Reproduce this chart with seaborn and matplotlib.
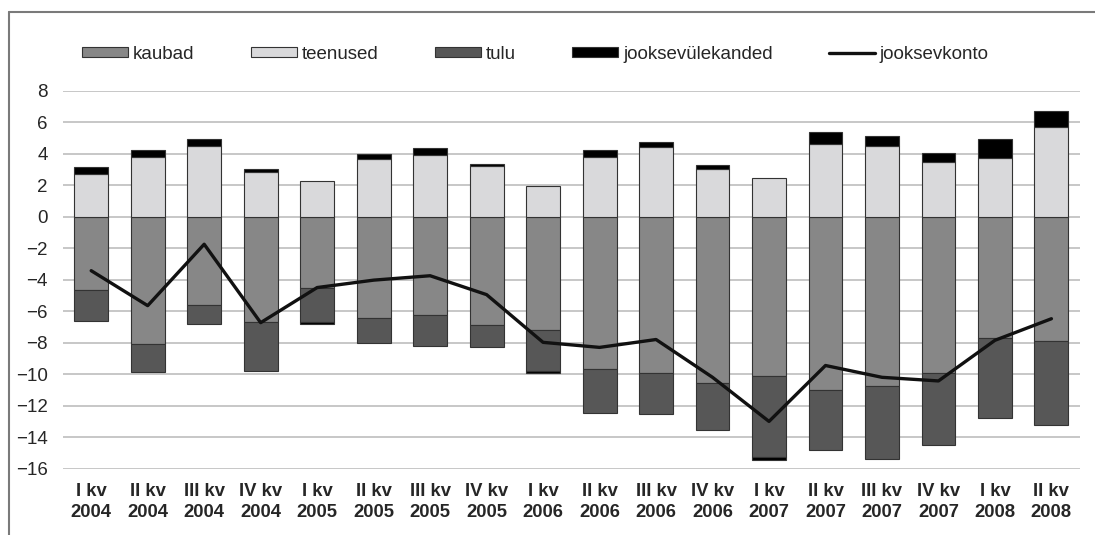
import numpy as np
import matplotlib
matplotlib.use("Agg")
import matplotlib.pyplot as plt
from matplotlib.patches import Rectangle
from matplotlib.lines import Line2D
import pandas as pd
import seaborn as sns

sns.set_style("white")
plt.rcParams['font.family'] = ['Liberation Sans', 'DejaVu Sans']

quarters = ["I kv\n2004", "II kv\n2004", "III kv\n2004", "IV kv\n2004",
            "I kv\n2005", "II kv\n2005", "III kv\n2005", "IV kv\n2005",
            "I kv\n2006", "II kv\n2006", "III kv\n2006", "IV kv\n2006",
            "I kv\n2007", "II kv\n2007", "III kv\n2007", "IV kv\n2007",
            "I kv\n2008", "II kv\n2008"]

kaubad = [-4.63, -8.06, -5.63, -6.69, -4.55, -6.41, -6.22, -6.90, -7.21,
          -9.67, -9.92, -10.54, -10.14, -11.00, -10.75, -9.92, -7.68, -7.89]
teenused = [2.73, 3.81, 4.51, 2.86, 2.29, 3.64, 3.92, 3.24, 1.97,
            3.81, 4.40, 3.03, 2.48, 4.62, 4.51, 3.45, 3.73, 5.71]
tulu = [-1.99, -1.82, -1.18, -3.09, -2.15, -1.59, -1.97, -1.40, -2.57,
        -2.77, -2.63, -2.98, -5.14, -3.81, -4.66, -4.60, -5.12, -5.33]
jooksevulekanded = [0.45, 0.44, 0.44, 0.15, -0.10, 0.32, 0.42, 0.13, -0.16,
                    0.44, 0.34, 0.23, -0.15, 0.74, 0.63, 0.61, 1.22, 1.02]
jooksevkonto = [-3.43, -5.65, -1.75, -6.73, -4.50, -4.03, -3.75, -4.95, -7.98,
                -8.30, -7.80, -10.20, -13.00, -9.45, -10.20, -10.43, -7.85, -6.48]

df = pd.DataFrame({"kvartal": quarters, "kaubad": kaubad, "teenused": teenused,
                   "tulu": tulu, "jooksevulekanded": jooksevulekanded,
                   "jooksevkonto": jooksevkonto})
df["x"] = np.arange(len(df))

c_kaubad = "#878787"
c_teenused = "#d9d9db"
c_tulu = "#575757"
c_jk = "#000000"
edge = "#333333"
w = 0.6

fig = plt.figure(figsize=(10.95, 5.35), dpi=100)
ax = fig.add_axes([0.0575, 0.124, 0.9285, 0.7065])

ax.bar(df["x"], df["kaubad"], width=w, color=c_kaubad, edgecolor=edge, linewidth=0.8, zorder=2)
ax.bar(df["x"], df["tulu"], bottom=df["kaubad"], width=w, color=c_tulu, edgecolor=edge,
       linewidth=0.8, zorder=2)
ax.bar(df["x"], df["teenused"], width=w, color=c_teenused, edgecolor=edge, linewidth=0.8, zorder=2)
jk_bottom = np.where(df["jooksevulekanded"] >= 0, df["teenused"], df["kaubad"] + df["tulu"])
ax.bar(df["x"], df["jooksevulekanded"], bottom=jk_bottom, width=w, color=c_jk,
       edgecolor=edge, linewidth=0.8, zorder=2)

sns.lineplot(data=df, x="x", y="jooksevkonto", color="#111111", linewidth=2.4, ax=ax,
             zorder=3, legend=False)

ax.set_xlim(-0.5, len(df) - 0.5)
ax.set_ylim(-16, 8)
ax.set_yticks(np.arange(-16, 9, 2))
ax.yaxis.grid(True, color="#bdbdbd", linewidth=1.2, zorder=0)
ax.set_axisbelow(True)
ax.set_xticks(df["x"])
ax.set_xticklabels(df["kvartal"], fontweight="bold", fontsize=13.3, linespacing=1.35)
ax.tick_params(axis="y", labelsize=13.5, length=0, pad=11)
ax.tick_params(axis="x", length=0, pad=10)
ax.set_xlabel("")
ax.set_ylabel("")
for s in ax.spines.values():
    s.set_visible(False)

handles = [Rectangle((0, 0), 1, 1, facecolor=c_kaubad, edgecolor=edge, linewidth=0.8),
           Rectangle((0, 0), 1, 1, facecolor=c_teenused, edgecolor=edge, linewidth=0.8),
           Rectangle((0, 0), 1, 1, facecolor=c_tulu, edgecolor=edge, linewidth=0.8),
           Rectangle((0, 0), 1, 1, facecolor=c_jk, edgecolor=edge, linewidth=0.8),
           Line2D([0], [0], color="#111111", linewidth=2.4)]
labels = ["kaubad", "teenused", "tulu", "jooksevülekanded", "jooksevkonto"]
fig.legend(handles, labels, loc="center left", bbox_to_anchor=(82 / 1095, 0.899), ncol=5,
           frameon=False, fontsize=13.5, handlelength=2.45, handleheight=0.48,
           handletextpad=0.27, columnspacing=3.0, borderaxespad=0, borderpad=0)

# outer frame (only top and left edges are visible in the original)
fig.add_artist(Line2D([9 / 1095, 1.0], [1 - 11.7 / 535, 1 - 11.7 / 535], color="#7a7a7a",
                      linewidth=1.5, transform=fig.transFigure))
fig.add_artist(Line2D([9 / 1095, 9 / 1095], [0.0, 1 - 11.7 / 535], color="#7a7a7a",
                      linewidth=1.5, transform=fig.transFigure))

fig.savefig("out.png", dpi=100)
